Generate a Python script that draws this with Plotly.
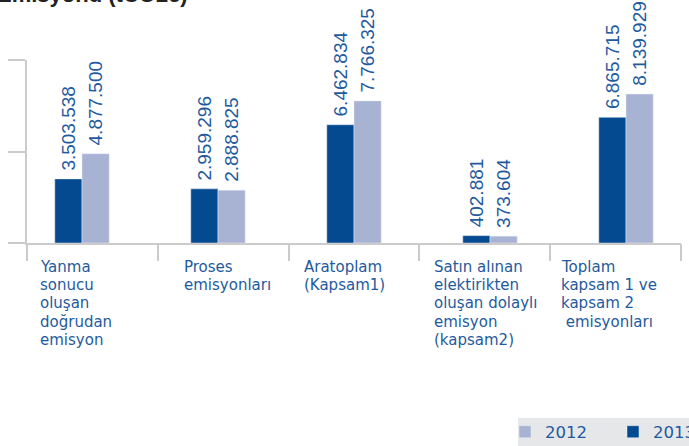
import plotly.graph_objects as go

# ---- data ----
categories = [
    "Yanma<br>sonucu<br>oluşan<br>doğrudan<br>emisyon",
    "Proses<br>emisyonları",
    "Aratoplam<br>(Kapsam1)",
    "Satın alınan<br>elektirikten<br>oluşan dolaylı<br>emisyon<br>(kapsam2)",
    "Toplam<br>kapsam 1 ve<br>kapsam 2<br>\u00a0emisyonları",
]
series_2013 = [3503538, 2959296, 6462834, 402881, 6865715]
series_2012 = [4877500, 2888825, 7766325, 373604, 8139929]
labels_2013 = ["3.503.538", "2.959.296", "6.462.834", "402.881", "6.865.715"]
labels_2012 = ["4.877.500", "2.888.825", "7.766.325", "373.604", "8.139.929"]
series_names = ["2013", "2012"]
title_text = "Emisyonu (tCO2e)"

# ---- styles ----
DARK = "#034a91"
LIGHT = "#a8b3d4"
TXT = "#1f5a9e"
GRID = "#cbcbcb"
FONT = "Liberation Sans, Arial, sans-serif"
LFONT = "DejaVu Sans, Verdana, sans-serif"

W, H = 689, 446
L, R, T, B = 27, 8, 60, 203
plot_h = H - T - B
plot_w = W - L - R


def px_to_paper_y(py):
    return (T + plot_h - py) / plot_h


def px_to_paper_x(px):
    return (px - L) / plot_w


x_idx = list(range(len(categories)))
pad = "\u00a0"

fig = go.Figure()
fig.add_trace(go.Bar(
    x=x_idx, y=series_2013, name=series_names[0], marker_color=DARK,
    text=[pad + t for t in labels_2013], textposition="outside", textangle=-90,
    constraintext="none", cliponaxis=False,
    textfont=dict(family=FONT, size=19, color=TXT),
))
fig.add_trace(go.Bar(
    x=x_idx, y=series_2012, name=series_names[1], marker_color=LIGHT,
    text=[pad + t for t in labels_2012], textposition="outside", textangle=-90,
    constraintext="none", cliponaxis=False,
    textfont=dict(family=FONT, size=19, color=TXT),
))

# dummy trace to activate the boundary-tick axis
fig.add_trace(go.Scatter(x=[0, 5], y=[0, 0], xaxis="x2", mode="lines",
                         line=dict(width=0), showlegend=False, hoverinfo="skip"))

# category labels, one annotation per line for tight spacing
label_xshift = [11, 24, 13, 13, 9]
line_step = 18.2
for i, cat in enumerate(categories):
    for k, line in enumerate(cat.split("<br>")):
        fig.add_annotation(
            x=i, xref="x2", y=0, yref="paper", xanchor="left", yanchor="middle",
            xshift=label_xshift[i], yshift=-(24 + line_step * k),
            text=line, showarrow=False,
            font=dict(family=LFONT, size=15, color=TXT),
        )

# truncated title at top
fig.add_annotation(
    x=px_to_paper_x(190), xref="paper", y=px_to_paper_y(9), yref="paper",
    xanchor="right", yanchor="bottom", text="<b>" + title_text + "</b>",
    showarrow=False, font=dict(family=FONT, size=22, color="#222222"),
)

# legend background panel
fig.add_shape(
    type="rect", xref="paper", yref="paper",
    x0=px_to_paper_x(518), x1=px_to_paper_x(720),
    y0=px_to_paper_y(470), y1=px_to_paper_y(418),
    fillcolor="#e6e7e9", line=dict(width=0), layer="below",
)

fig.update_layout(
    width=W, height=H,
    margin=dict(l=L, r=R, t=T, b=B, autoexpand=False),
    paper_bgcolor="white", plot_bgcolor="white",
    barmode="group", bargap=0.6, bargroupgap=0,
    showlegend=True,
    legend=dict(
        orientation="h", traceorder="reversed",
        x=px_to_paper_x(505), xanchor="left",
        y=px_to_paper_y(432), yanchor="middle",
        bgcolor="rgba(0,0,0,0)", font=dict(family=LFONT, size=16.5, color=TXT),
        entrywidth=63, entrywidthmode="pixels",
    ),
    xaxis=dict(
        range=[2 - 2.4044, 2 + 2.4044], showticklabels=False, ticks="",
        showgrid=False, zeroline=False, showline=True, linecolor=GRID, linewidth=1.5,
    ),
    xaxis2=dict(
        overlaying="x", anchor="y", side="bottom", range=[0, 5],
        tickvals=[0, 1, 2, 3, 4, 5], ticks="outside", ticklen=17,
        tickcolor=GRID, tickwidth=1.5, showticklabels=False,
        showgrid=False, zeroline=False, showline=False,
    ),
    yaxis=dict(
        range=[0, 10000000], tickvals=[0, 5000000, 10000000],
        ticks="outside", ticklen=17, tickcolor=GRID, tickwidth=1.5,
        showticklabels=False, showgrid=False, zeroline=False,
        showline=True, linecolor=GRID, linewidth=1.5,
    ),
)

fig.write_html(
    "out.html",
    config={"displayModeBar": False},
    post_script="document.body.style.margin='0';document.body.style.overflow='hidden';",
)
